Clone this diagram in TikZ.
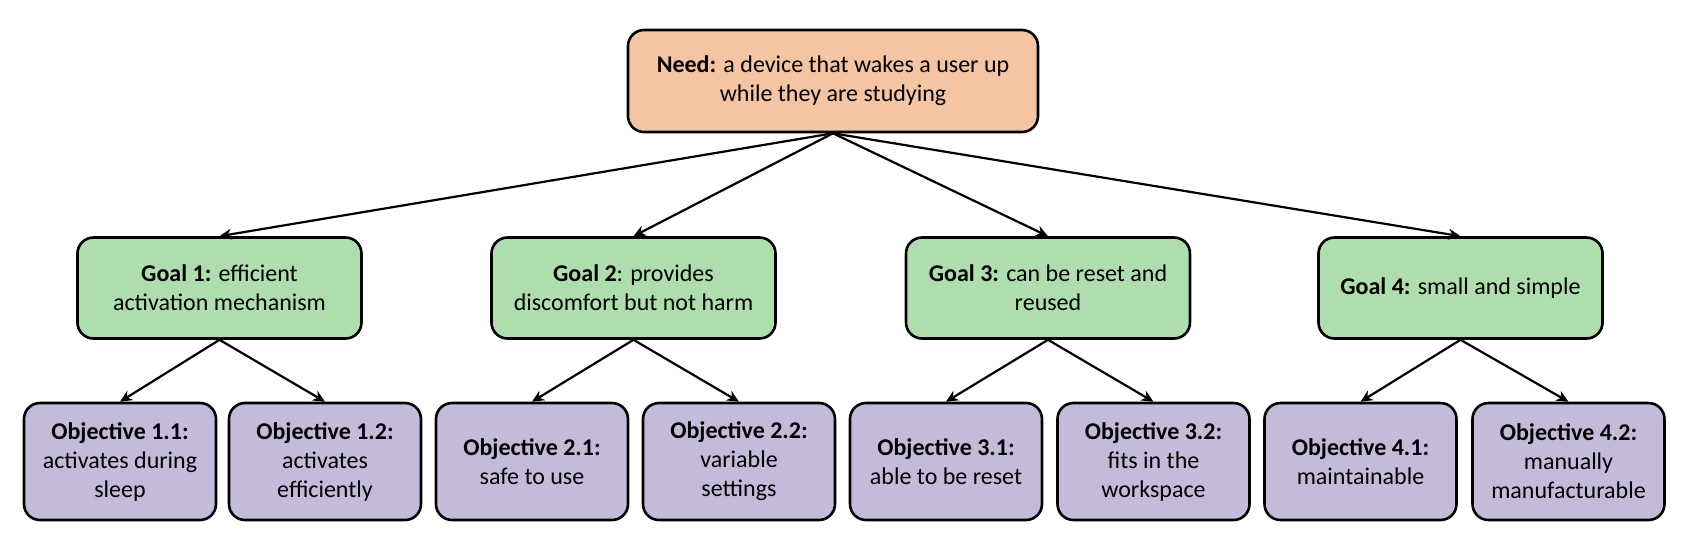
\documentclass[tikz,border=0pt]{standalone}
\usepackage{fontspec}
\setmainfont{Carlito}
\usetikzlibrary{arrows.meta}
\definecolor{needfill}{HTML}{F5C5A3}
\definecolor{goalfill}{HTML}{AEDEAD}
\definecolor{objfill}{HTML}{C4BBDB}
\tikzset{
  box/.style={draw=black, line width=1.3pt, rounded corners=8pt, align=center,
    font=\fontsize{12}{14.5}\selectfont, inner sep=2pt},
  needbox/.style={box, fill=needfill, minimum width=205pt, minimum height=51pt},
  goalbox/.style={box, fill=goalfill, minimum width=142pt, minimum height=50.5pt},
  objbox/.style={box, fill=objfill, minimum width=96pt, minimum height=58.5pt},
  conn/.style={line width=1.1pt, -{Stealth[length=6pt,width=5.5pt]}}
}
\begin{document}
\begin{tikzpicture}[x=0.5pt,y=-0.5pt]
\useasboundingbox (0,0) rectangle (1688,554);
\node[needbox] (need) at (833,81) {\textbf{Need:} a device that wakes a user up\\while they are studying};
\node[goalbox] (g1) at (219.5,288) {\textbf{Goal 1:} efficient\\activation mechanism};
\node[goalbox] (g2) at (633.5,288) {\textbf{Goal 2}: provides\\discomfort but not harm};
\node[goalbox] (g3) at (1048,288) {\textbf{Goal 3:} can be reset and\\reused};
\node[goalbox] (g4) at (1460.5,288) {\textbf{Goal 4:} small and simple};
\node[objbox] (o11) at (120,461.5) {\textbf{Objective 1.1:}\\activates during\\sleep};
\node[objbox] (o12) at (325,461.5) {\textbf{Objective 1.2:}\\activates\\efficiently};
\node[objbox] (o21) at (532,461.5) {\textbf{Objective 2.1:}\\safe to use};
\node[objbox] (o22) at (739,461.5) {\textbf{Objective 2.2:}\\variable\\settings};
\node[objbox] (o31) at (946,461.5) {\textbf{Objective 3.1:}\\able to be reset};
\node[objbox] (o32) at (1153.5,461.5) {\textbf{Objective 3.2:}\\fits in the\\workspace};
\node[objbox] (o41) at (1360.5,461.5) {\textbf{Objective 4.1:}\\maintainable};
\node[objbox] (o42) at (1568.5,461.5) {\textbf{Objective 4.2:}\\manually\\manufacturable};
\foreach \g in {g1,g2,g3,g4} \draw[conn] (need.south) -- (\g.north);
\draw[conn] (g1.south) -- (o11.north);
\draw[conn] (g1.south) -- (o12.north);
\draw[conn] (g2.south) -- (o21.north);
\draw[conn] (g2.south) -- (o22.north);
\draw[conn] (g3.south) -- (o31.north);
\draw[conn] (g3.south) -- (o32.north);
\draw[conn] (g4.south) -- (o41.north);
\draw[conn] (g4.south) -- (o42.north);
\end{tikzpicture}
\end{document}
